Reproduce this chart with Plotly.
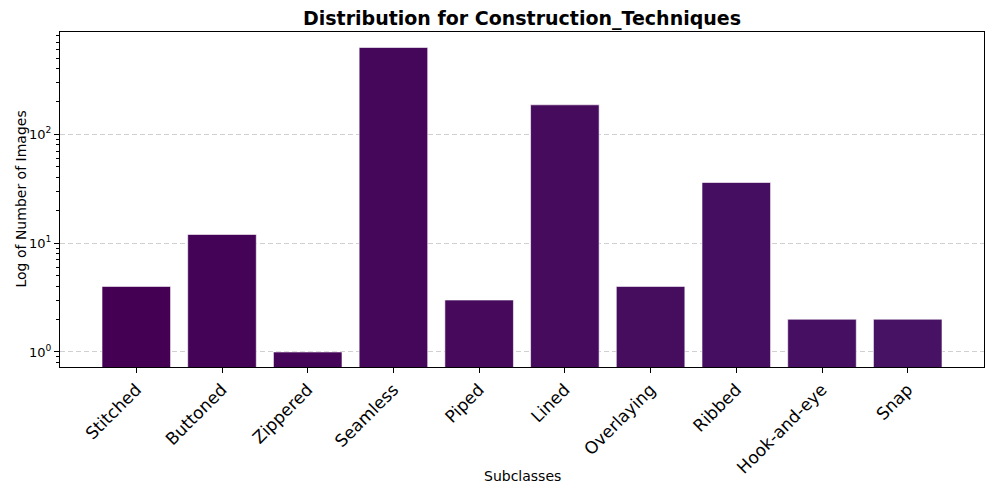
import plotly.graph_objects as go

categories = ["Stitched", "Buttoned", "Zippered", "Seamless", "Piped", "Lined",
              "Overlaying", "Ribbed", "Hook-and-eye", "Snap"]
counts = [4, 12, 1, 625, 3, 186, 4, 36, 2, 2]
bar_colors = ["#440154", "#440356", "#450558", "#45075a", "#46095b",
              "#460b5d", "#460c5e", "#460e60", "#470f62", "#471164"]
ytick_vals = [1, 10, 100]
ytick_text = ["10<sup>0</sup>", "10<sup>1</sup>", "10<sup>2</sup>"]
minor_vals = [m * 10 ** e for e in range(-1, 3) for m in range(2, 10)]

font = "DejaVu Sans"
W, H = 989, 490
L, R, T, B = 52, 13, 24, 131
fig = go.Figure(go.Bar(
    x=list(range(len(categories))), y=counts,
    marker=dict(color=bar_colors, line=dict(color="rgba(255,255,255,0.6)", width=1)),
    width=0.8,
))
fig.update_layout(
    width=W, height=H,
    margin=dict(l=L, r=R, t=T, b=B),
    paper_bgcolor="white", plot_bgcolor="white",
    font=dict(family=font, color="black"),
    title=dict(text="<b>Distribution for Construction_Techniques</b>",
               x=0.5, xref="paper", xanchor="center", y=1 - 10 / H, yanchor="middle",
               font=dict(size=19, family=font)),
    showlegend=False,
    bargap=0.2,
    annotations=[
        dict(text="Subclasses", xref="paper", yref="paper", x=0.5,
             y=-(476 - 8 - (H - B)) / (H - T - B),
             xanchor="center", yanchor="middle", showarrow=False,
             font=dict(size=14, family=font)),
        dict(text="Log of Number of Images", xref="paper", yref="paper",
             x=-(L - 12) / (W - L - R), y=0.5, textangle=-90,
             xanchor="center", yanchor="middle", showarrow=False,
             font=dict(size=14, family=font)),
    ],
)
fig.update_xaxes(
    range=[-0.89, 9.89], tickmode="array", tickvals=list(range(len(categories))),
    ticktext=categories, tickangle=-45, tickfont=dict(size=17),
    ticks="outside", ticklen=5, tickcolor="black",
    showline=True, linecolor="black", linewidth=1, mirror=True,
    showgrid=False, zeroline=False, automargin=False,
)
fig.update_yaxes(
    type="log", range=[-0.138, 2.938],
    tickmode="array", tickvals=ytick_vals, ticktext=ytick_text,
    tickfont=dict(size=13),
    ticks="outside", ticklen=5, tickcolor="black",
    minor=dict(tickmode="array", tickvals=minor_vals, ticks="outside", ticklen=3,
               tickcolor="black", showgrid=False),
    showline=True, linecolor="black", linewidth=1, mirror=True,
    showgrid=True, gridcolor="#d0d0d0", griddash="5px,3px", gridwidth=1,
    zeroline=False, automargin=False,
)
fig.write_html("out.html")
